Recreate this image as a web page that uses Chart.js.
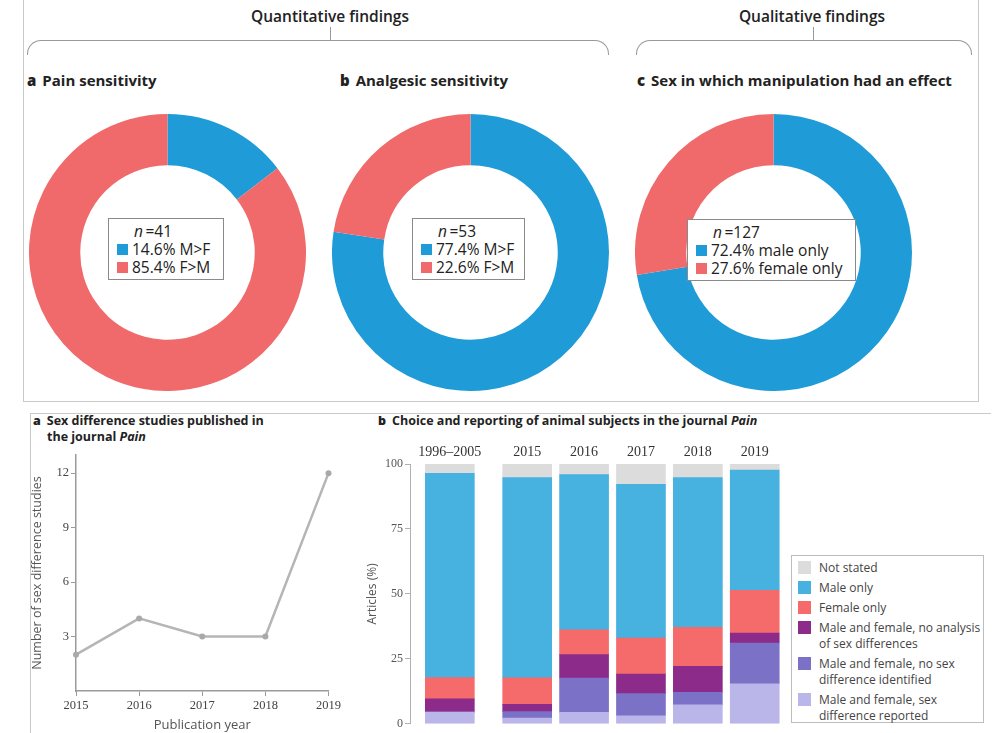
<!DOCTYPE html>
<html>
<head>
<meta charset="utf-8">
<script src="https://cdn.jsdelivr.net/npm/chart.js@4.4.1/dist/chart.umd.min.js"></script>
<style>
  body { margin: 0; width: 995px; height: 733px; position: relative; overflow: hidden; background: #fff; font-family: "Open Sans", sans-serif; color: #222; }
  .abs { position: absolute; }
  .frame { position: absolute; border-color: #c9c9c9; border-style: solid; border-width: 0; }
  .head { position: absolute; font-size: 15.5px; font-weight: 600; transform: translateX(-50%); white-space: nowrap; top: 5px; }
  .brace { position: absolute; top: 40px; height: 14px; border: 1px solid #9a9a9a; border-bottom: none; border-radius: 14px 14px 0 0; }
  .stem { position: absolute; top: 27px; width: 1px; height: 13px; background: #9a9a9a; }
  .sub { position: absolute; top: 70px; font-size: 15px; font-weight: 700; white-space: nowrap; }
  .sub b { margin-right: 6px; }
  .panel { position: absolute; font-size: 12.5px; font-weight: 700; line-height: 16px; white-space: nowrap; }
  .dl { position: absolute; border: 1px solid #8a8a8a; background: #fff; font-size: 15.5px; line-height: 18px; padding: 3px 0 0 8px; box-sizing: border-box; color: #222; }
  .dl .n { padding-left: 17px; }
  .dl .row { display: flex; align-items: center; }
  .dl .sw { width: 11px; height: 11px; margin-right: 4px; }
  .bl { position: absolute; left: 791px; top: 555px; width: 193px; height: 168px; border: 1px solid #bdbdbd; box-sizing: border-box; padding: 4px 0 0 6px; font-size: 12px; line-height: 16px; color: #444; }
  .bl .item { display: flex; align-items: flex-start; margin-bottom: 4px; }
  .bl .sw { width: 13px; height: 13px; margin: 1px 8px 0 0; flex: none; }
  canvas { display: block; }
</style>
</head>
<body>
<div class="frame" style="left:23px;top:-2px;width:954px;height:403px;border-left-width:1px;border-right-width:1px;border-bottom-width:1px;"></div>
<div class="frame" style="left:30px;top:413px;width:960px;height:330px;border-left-width:1px;border-top-width:1px;"></div>

<div class="head" style="left:330px">Quantitative findings</div>
<div class="brace" style="left:27px;width:580px"></div>
<div class="stem" style="left:330px"></div>
<div class="head" style="left:812px">Qualitative findings</div>
<div class="brace" style="left:636px;width:334px"></div>
<div class="stem" style="left:813px"></div>

<div class="sub" style="left:27px"><b>a</b>Pain sensitivity</div>
<div class="sub" style="left:340px"><b>b</b>Analgesic sensitivity</div>
<div class="sub" style="left:637px"><b>c</b>Sex in which manipulation had an effect</div>

<div class="abs" style="left:29px;top:114px;width:277px;height:277px"><canvas id="donutA"></canvas></div>
<div class="abs" style="left:332px;top:114px;width:277px;height:277px"><canvas id="donutB"></canvas></div>
<div class="abs" style="left:635px;top:114px;width:277px;height:277px"><canvas id="donutC"></canvas></div>

<div class="panel" style="left:33px;top:413px"><b style="margin-right:6px">a</b>Sex difference studies published in<br><span style="padding-left:14px">the journal <i>Pain</i></span></div>
<div class="panel" style="left:378px;top:413px"><b style="margin-right:6px">b</b>Choice and reporting of animal subjects in the journal <i>Pain</i></div>

<div class="abs" style="left:30px;top:445px;width:313px;height:288px"><canvas id="lineChart"></canvas></div>
<div class="abs" style="left:365px;top:440px;width:425px;height:293px"><canvas id="barChart"></canvas></div>
<div class="bl" id="barLegend"></div>

<script>
// doughnuts
const sexKeys = ["M>F", "F>M"];
const painShare = [14.6, 85.4];
const analgesicShare = [77.4, 22.6];
const effectKeys = ["male only", "female only"];
const effectShare = [72.4, 27.6];
const donutN = [41, 53, 127];

// studies per year
const years = ["2015", "2016", "2017", "2018", "2019"];
const studyCounts = [2, 4, 3, 3, 12];
const countTicks = [3, 6, 9, 12];

// animal subjects, % of articles (bottom to top of each bar)
const periods = ["1996–2005", "2015", "2016", "2017", "2018", "2019"];
const sexDiffReported = [4.5, 2.2, 4.4, 3.1, 7.3, 15.4];
const noSexDiff = [0, 2.5, 13.2, 8.5, 4.8, 15.7];
const noAnalysis = [5.1, 2.8, 9.0, 7.5, 10.0, 3.8];
const femaleOnly = [8.2, 10.2, 9.6, 13.9, 15.0, 16.5];
const maleOnly = [78.6, 77.1, 59.7, 59.2, 57.7, 46.3];
const notStated = [3.6, 5.2, 4.1, 7.8, 5.2, 2.3];
const articleTicks = [0, 25, 50, 75, 100];

Chart.defaults.animation = false;
Chart.defaults.font.family = '"Open Sans", sans-serif';
Chart.defaults.plugins.legend.display = false;
Chart.defaults.plugins.tooltip.enabled = false;

const BLUE = "#1f9bd7";
const RED = "#f16a6b";

function makeDonut(id, values, keys, n, box) {
  new Chart(document.getElementById(id), {
    type: "doughnut",
    data: {
      labels: keys,
      datasets: [{ data: values, backgroundColor: [BLUE, RED], borderWidth: 0 }],
    },
    options: { responsive: true, maintainAspectRatio: false, cutout: "63%", events: [] },
  });

  // legend box in the hole
  const div = document.createElement("div");
  div.className = "dl";
  Object.assign(div.style, { left: box[0] + "px", top: box[1] + "px", width: box[2] + "px", height: box[3] + "px" });
  let html = `<div class="n"><i>n</i>&thinsp;=${n}</div>`;
  values.forEach((v, i) => {
    html += `<div class="row"><span class="sw" style="background:${i ? RED : BLUE}"></span>${v.toFixed(1)}% ${keys[i].replace(">", "&gt;")}</div>`;
  });
  div.innerHTML = html;
  document.body.appendChild(div);
}

makeDonut("donutA", painShare, sexKeys, donutN[0], [108, 218, 116, 62]);
makeDonut("donutB", analgesicShare, sexKeys, donutN[1], [412, 218, 113, 62]);
makeDonut("donutC", effectShare, effectKeys, donutN[2], [687, 219, 169, 62]);

const tickFont = { family: '"Liberation Serif", serif', size: 12.5 };
const axisGrey = "#9a9a9a";

new Chart(document.getElementById("lineChart"), {
  type: "line",
  data: {
    labels: years,
    datasets: [{
      data: studyCounts,
      borderColor: "#b5b5b5",
      borderWidth: 2.5,
      pointRadius: 3,
      pointBackgroundColor: "#a9a9a9",
      pointBorderWidth: 0,
      tension: 0,
    }],
  },
  options: {
    responsive: true,
    maintainAspectRatio: false,
    events: [],
    layout: { padding: { top: 10, right: 0, left: 0, bottom: 0 } },
    scales: {
      x: {
        offset: false,
        grid: { drawOnChartArea: false, tickLength: 5, color: axisGrey },
        border: { color: axisGrey, width: 1.5 },
        ticks: { font: tickFont, color: "#444", padding: 2, maxRotation: 0 },
        title: { display: true, text: "Publication year", font: { size: 13 }, color: "#555", padding: 0 },
        afterFit: (s) => { s.height = 42; },
      },
      y: {
        min: 0,
        max: 13,
        afterBuildTicks: (s) => { s.ticks = countTicks.map((v) => ({ value: v })); },
        grid: { drawOnChartArea: false, tickLength: 5, color: axisGrey },
        border: { color: axisGrey, width: 1.5 },
        ticks: { font: tickFont, color: "#444", padding: 2 },
        title: { display: true, text: "Number of sex difference studies", font: { size: 12.5 }, color: "#555", padding: 0 },
        afterFit: (s) => { s.width = 46; },
      },
    },
  },
});

// the first bar stands apart from the yearly ones
const barSlot = (i) => (i === 0 ? 0 : i + 0.36);
const toPoints = (arr) => arr.map((v, i) => ({ x: barSlot(i), y: v }));

const barSeries = [
  { label: "Male and female, sex|difference reported", data: sexDiffReported, color: "#bbb6ea" },
  { label: "Male and female, no sex|difference identified", data: noSexDiff, color: "#7b71c7" },
  { label: "Male and female, no analysis|of sex differences", data: noAnalysis, color: "#8d2b8b" },
  { label: "Female only", data: femaleOnly, color: "#f56a6b" },
  { label: "Male only", data: maleOnly, color: "#47b1df" },
  { label: "Not stated", data: notStated, color: "#dcdcdc" },
];

new Chart(document.getElementById("barChart"), {
  type: "bar",
  data: {
    datasets: barSeries.map((s) => ({
      label: s.label,
      data: toPoints(s.data),
      backgroundColor: s.color,
      borderWidth: 0,
      barThickness: 49,
    })),
  },
  options: {
    responsive: true,
    maintainAspectRatio: false,
    events: [],
    layout: { padding: { top: 0, right: 0, left: 0, bottom: 9 } },
    scales: {
      x: {
        type: "linear",
        position: "top",
        stacked: true,
        offset: false,
        min: -0.7,
        max: 5.98,
        afterBuildTicks: (s) => { s.ticks = periods.map((p, i) => ({ value: barSlot(i) })); },
        grid: { display: false, drawTicks: false, tickLength: 0 },
        border: { display: false },
        ticks: {
          autoSkip: false,
          maxRotation: 0,
          padding: 3,
          font: { family: '"Liberation Serif", serif', size: 14 },
          color: "#333",
          callback: (v, i) => periods[i],
        },
        afterFit: (s) => { s.height = 24; },
      },
      y: {
        stacked: true,
        min: 0,
        max: 100,
        afterBuildTicks: (s) => { s.ticks = articleTicks.map((v) => ({ value: v })); },
        grid: { drawOnChartArea: false, tickLength: 5, color: "#b0b0b0" },
        border: { color: "#b0b0b0", width: 1 },
        ticks: { font: { family: '"Liberation Serif", serif', size: 12 }, color: "#555", padding: 2 },
        title: { display: true, text: "Articles (%)", font: { size: 12 }, color: "#555", padding: 0 },
        afterFit: (s) => { s.width = 45; },
      },
    },
  },
});

// legend, top series first
const legend = document.getElementById("barLegend");
barSeries.slice().reverse().forEach((s) => {
  const item = document.createElement("div");
  item.className = "item";
  item.innerHTML = `<span class="sw" style="background:${s.color}"></span><span>${s.label.split("|").join("<br>")}</span>`;
  legend.appendChild(item);
});
</script>
</body>
</html>
